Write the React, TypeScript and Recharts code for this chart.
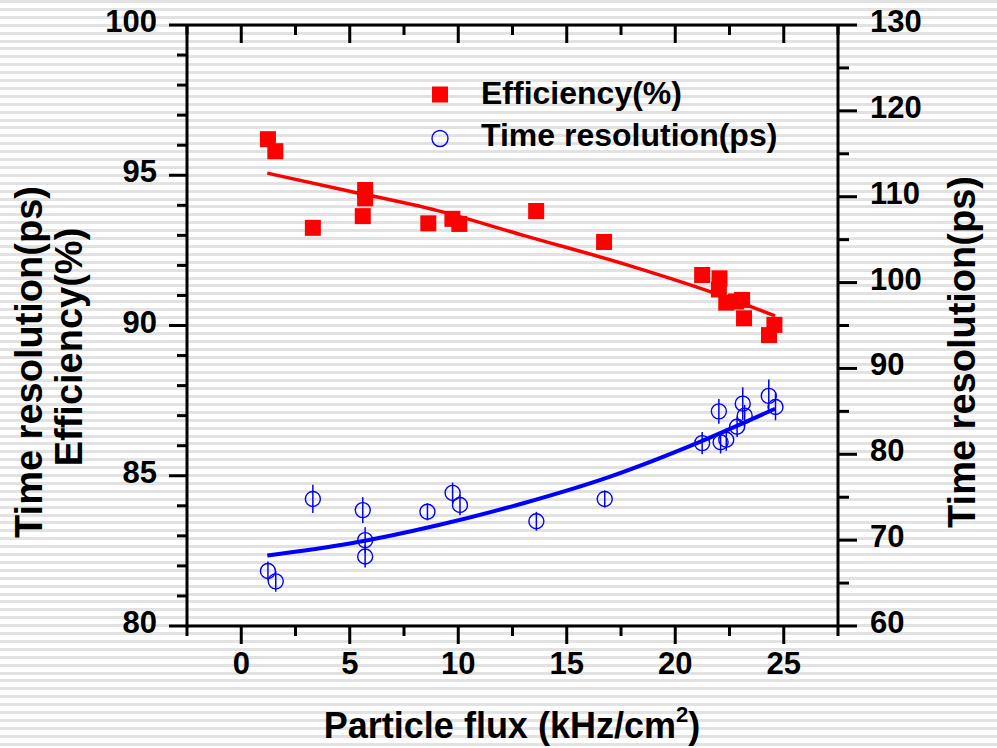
import { ComposedChart, Scatter, Line, XAxis, YAxis, ErrorBar, Legend } from "recharts";

// efficiency measurements (%), left axis
const effX = [1.23, 1.57, 3.3, 5.6, 5.71, 5.71, 8.62, 9.73, 10.05, 13.59, 16.72, 21.24, 22.04, 22.01, 22.35, 22.8, 23.08, 23.17, 24.57, 24.32];
const effY = [96.2, 95.8, 93.25, 93.64, 94.51, 94.23, 93.4, 93.55, 93.38, 93.81, 92.78, 91.68, 91.57, 91.2, 90.76, 90.8, 90.85, 90.24, 90.02, 89.68];

// time resolution (ps), right axis
const timeX = [1.23, 1.59, 3.3, 5.6, 5.71, 5.71, 8.58, 9.74, 10.08, 13.6, 16.75, 21.24, 22.01, 22.09, 22.35, 22.85, 23.11, 23.2, 24.31, 24.62];
const timeY = [66.4, 65.2, 74.8, 73.5, 70.0, 68.1, 73.3, 75.5, 74.1, 72.2, 74.8, 81.3, 85.0, 81.4, 81.7, 83.2, 85.9, 84.5, 86.8, 85.5];
const timeErr = [1.1, 1.2, 1.65, 1.5, 1.5, 1.3, 1.0, 1.2, 1.2, 1.1, 1.0, 1.3, 1.45, 1.3, 1.3, 1.2, 1.9, 1.25, 1.9, 1.55];

// fitted curves
const effFitX = [1.2, 5, 9, 13, 18, 22, 24.6];
const effFitY = [95.07, 94.47, 93.83, 93.0, 91.97, 91.03, 90.32];
const timeFitX = [1.2, 5, 9, 13, 17, 21, 24.6];
const timeFitY = [68.2, 69.6, 71.7, 74.3, 77.4, 81.3, 85.3];

const xTicks = [-2.5, 0, 2.5, 5, 7.5, 10, 12.5, 15, 17.5, 20, 22.5, 25, 27.5];
const leftTicks = [80, 81, 82, 83, 84, 85, 86, 87, 88, 89, 90, 91, 92, 93, 94, 95, 96, 97, 98, 99, 100];
const rightTicks = [60, 65, 70, 75, 80, 85, 90, 95, 100, 105, 110, 115, 120, 125, 130];

const FONT = '"Liberation Sans", Arial, Helvetica, sans-serif';
const RED = "#ff0000";
const BLUE = "#0000ff";

const effData = effX.map((x, i) => ({ x, y: effY[i] }));
const timeData = timeX.map((x, i) => ({ x, y: timeY[i], err: timeErr[i] }));
const effFit = effFitX.map((x, i) => ({ x, y: effFitY[i] }));
const timeFit = timeFitX.map((x, i) => ({ x, y: timeFitY[i] }));

const txt = { fontFamily: FONT, fontWeight: "bold" as const, fill: "#000" };

const BottomTick = ({ x, y, payload }: any) => {
  const v = payload.value;
  const major = v % 5 === 0;
  return (
    <g>
      <line x1={x} y1={y} x2={x} y2={y + (major ? 18 : 10)} stroke="#000" strokeWidth={3} />
      {major && (
        <text x={x} y={y + 48} textAnchor="middle" fontSize={31} {...txt}>
          {v}
        </text>
      )}
    </g>
  );
};

const TopTick = ({ x, y, payload }: any) => {
  const major = payload.value % 5 === 0;
  return <line x1={x} y1={y} x2={x} y2={y + (major ? 18 : 10)} stroke="#000" strokeWidth={3} />;
};

const LeftTick = ({ x, y, payload }: any) => {
  const v = payload.value;
  const major = v % 5 === 0;
  return (
    <g>
      <line x1={x} y1={y} x2={x - (major ? 18 : 10)} y2={y} stroke="#000" strokeWidth={3} />
      {major && (
        <text x={x - 30} y={y + 7} textAnchor="end" fontSize={31} {...txt}>
          {v}
        </text>
      )}
    </g>
  );
};

const RightTick = ({ x, y, payload }: any) => {
  const v = payload.value;
  const major = v % 10 === 0;
  return (
    <g>
      <line x1={x} y1={y} x2={x + (major ? 19 : 11)} y2={y} stroke="#000" strokeWidth={3} />
      {major && (
        <text x={x + 32} y={y + 7} textAnchor="start" fontSize={31} {...txt}>
          {v}
        </text>
      )}
    </g>
  );
};

const XTitle = () => (
  <text x={512} y={738} textAnchor="middle" fontSize={36} {...txt}>
    Particle flux (kHz/cm<tspan fontSize={22} dy={-16}>2</tspan>
    <tspan dy={16}>)</tspan>
  </text>
);

const LeftTitle = () => (
  <g>
    <text x={42} y={362} transform="rotate(-90, 42, 362)" textAnchor="middle" fontSize={38} {...txt}>
      Time resolution(ps)
    </text>
    <text x={82} y={347} transform="rotate(-90, 82, 347)" textAnchor="middle" fontSize={38} {...txt}>
      Efficiency(%)
    </text>
  </g>
);

const RightTitle = () => (
  <text x={975} y={352} transform="rotate(-90, 975, 352)" textAnchor="middle" fontSize={38} {...txt}>
    Time resolution(ps)
  </text>
);

const Square = (p: any) => <rect x={p.cx - 8} y={p.cy - 8} width={16} height={16} fill={RED} />;
const Ring = (p: any) => <circle cx={p.cx} cy={p.cy} r={7.5} fill="none" stroke={BLUE} strokeWidth={1.4} />;

const LegendBox = () => (
  <svg width={420} height={90} style={{ overflow: "visible", display: "block" }}>
    <rect x={12} y={16.5} width={16} height={16} fill={RED} />
    <text x={61} y={34} fontSize={32} {...txt}>
      Efficiency(%)
    </text>
    <circle cx={20} cy={68.5} r={8} fill="none" stroke={BLUE} strokeWidth={1.4} />
    <text x={61} y={76} fontSize={32} {...txt}>
      Time resolution(ps)
    </text>
  </svg>
);

export default function App() {
  return (
    <div
      style={{
        position: "absolute",
        left: 0,
        top: 0,
        width: 997,
        height: 748,
        background: "repeating-linear-gradient(180deg, #e2e2e2 0px, #e2e2e2 3px, #ffffff 3px, #ffffff 7.9px)",
      }}
    >
      <ComposedChart width={997} height={748} margin={{ top: 24, right: 0, bottom: 0, left: 0 }}>
        <XAxis
          xAxisId="x"
          dataKey="x"
          type="number"
          orientation="bottom"
          domain={[-2.5, 27.5]}
          ticks={xTicks}
          interval={0}
          allowDataOverflow
          height={122}
          tickSize={0}
          tickMargin={0}
          tick={<BottomTick />}
          axisLine={{ stroke: "#000", strokeWidth: 3 }}
          label={<XTitle />}
        />
        <XAxis
          xAxisId="top"
          dataKey="x"
          type="number"
          orientation="top"
          domain={[-2.5, 27.5]}
          ticks={xTicks}
          interval={0}
          allowDataOverflow
          height={1}
          tickSize={0}
          tickMargin={0}
          tick={<TopTick />}
          axisLine={{ stroke: "#000", strokeWidth: 3 }}
        />
        <YAxis
          yAxisId="left"
          orientation="left"
          type="number"
          domain={[80, 100]}
          ticks={leftTicks}
          interval={0}
          allowDataOverflow
          width={187}
          tickSize={0}
          tickMargin={0}
          tick={<LeftTick />}
          axisLine={{ stroke: "#000", strokeWidth: 3 }}
          label={<LeftTitle />}
        />
        <YAxis
          yAxisId="right"
          orientation="right"
          type="number"
          domain={[60, 130]}
          ticks={rightTicks}
          interval={0}
          allowDataOverflow
          width={159}
          tickSize={0}
          tickMargin={0}
          tick={<RightTick />}
          axisLine={{ stroke: "#000", strokeWidth: 3 }}
          label={<RightTitle />}
        />
        <Legend
          layout="horizontal"
          verticalAlign="middle"
          align="center"
          content={<LegendBox />}
          wrapperStyle={{ left: 420, top: 70, width: 420, height: 90 }}
        />
        <Line
          data={effFit}
          dataKey="y"
          xAxisId="x"
          yAxisId="left"
          type="monotone"
          stroke={RED}
          strokeWidth={3.5}
          dot={false}
          isAnimationActive={false}
        />
        <Scatter
          data={effData}
          dataKey="y"
          xAxisId="x"
          yAxisId="left"
          shape={Square}
          isAnimationActive={false}
        />
        <Scatter
          data={timeData}
          dataKey="y"
          xAxisId="x"
          yAxisId="right"
          shape={Ring}
          isAnimationActive={false}
        >
          <ErrorBar dataKey="err" direction="y" width={0} stroke={BLUE} strokeWidth={1.5} isAnimationActive={false} />
        </Scatter>
        <Line
          data={timeFit}
          dataKey="y"
          xAxisId="x"
          yAxisId="right"
          type="monotone"
          stroke={BLUE}
          strokeWidth={4}
          dot={false}
          isAnimationActive={false}
        />
      </ComposedChart>
    </div>
  );
}
